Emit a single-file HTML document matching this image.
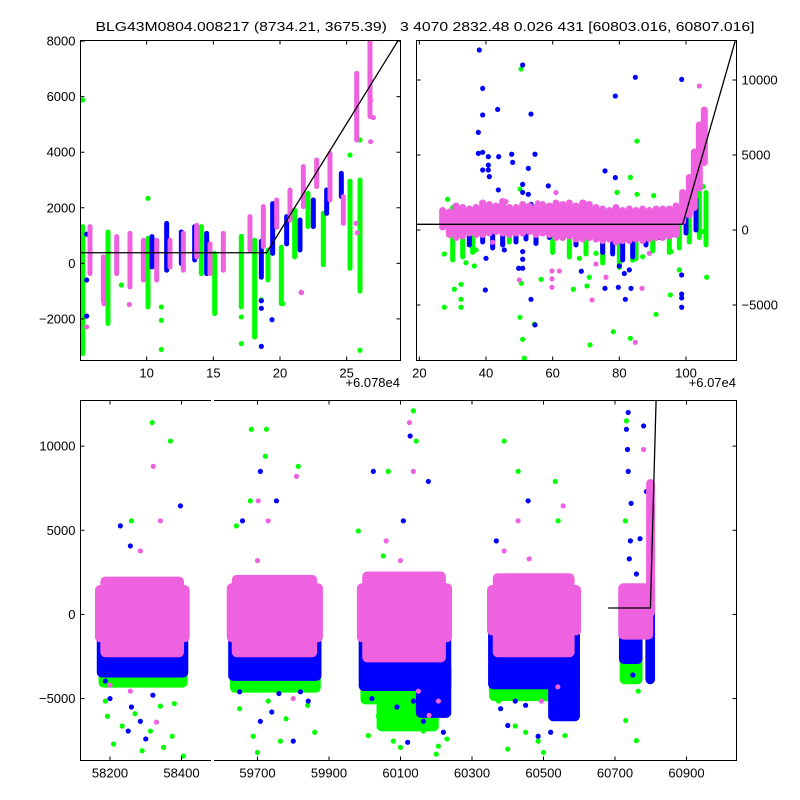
<!DOCTYPE html>
<html><head><meta charset="utf-8">
<style>
html,body{margin:0;padding:0;background:#fff;}
svg{display:block;font-family:"Liberation Sans",sans-serif;}
text{font-size:13px;fill:#000;}
</style></head>
<body>
<svg id="chart" width="800" height="800" viewBox="0 0 800 800">
<rect width="800" height="800" fill="#fff"/>
<text x="425" y="31" text-anchor="middle" textLength="659" lengthAdjust="spacingAndGlyphs" style="white-space:pre" xml:space="preserve">BLG43M0804.008217 (8734.21, 3675.39)   3 4070 2832.48 0.026 431 [60803.016, 60807.016]</text>
<defs>
<clipPath id="c1"><rect x="80" y="40" width="320" height="320"/></clipPath>
<clipPath id="c2"><rect x="416" y="40" width="320" height="320"/></clipPath>
<clipPath id="c3"><rect x="80" y="400" width="656" height="360"/></clipPath>
</defs>
<g id="p1" clip-path="url(#c1)"></g>
<g id="p2" clip-path="url(#c2)"></g>
<g id="p3" clip-path="url(#c3)"></g>
<g id="axes"></g>
</svg>
<script>
const GREEN="#00ff00", BLUE="#0000ff", PINK="#ee62e0";
const modelBase=[380];
const modelT0=[60799];
const modelSlope=[775];
// ===== top-left panel (x = MJD-60780) =====
const tlXTicks=[10,15,20,25];
const tlYTicks=[-2000,0,2000,4000,6000,8000];
const tlGreenStreaks=[[5.2,-3250,1320],[7.1,-2170,1130],[10.1,-1570,900],[14.1,-370,1320],[15.1,-1810,360],[17.1,-1570,970],[18.1,-2650,830],[19.1,-600,480],[20.1,-1450,580],[21.1,230,1920],[22.1,1320,2520],[23.25,-50,1800],[25.25,-180,2950],[26,-1000,3000]];
const tlGreenPts=[[5.2,5880],[5.2,-3000],[8.1,-780],[10.1,2340],[11.1,-1570],[11.1,-2050],[11.1,-3100],[17.1,-1930],[17.1,-2890],[18.1,-2650],[18.6,-1310],[20.2,-1450],[26,-3130],[25.25,3900],[26,4440],[25.25,2950]];
const tlBlueStreaks=[[10.4,-130,960],[11.5,-250,1440],[12.6,-8,1130],[13.6,120,1320],[14.5,-370,1080],[18.6,-500,800],[19.45,360,2150],[20.5,700,1680],[21.5,480,1560],[22.5,1320,2280],[23.5,1800,2640],[24.6,2400,3240]];
const tlBluePts=[[5.5,1050],[5.5,-600],[5.5,-1900],[18.6,-1350],[18.6,-1620],[18.6,-2990],[19.4,-2030],[21.6,-1050]];
const tlPinkStreaks=[[5.75,-370,1320],[6.75,-1330,230],[7.75,-370,960],[8.75,-850,1080],[9.75,-600,830],[10.75,-600,830],[11.75,-130,830],[12.75,-250,1080],[13.75,230,1370],[14.75,-370,700],[15.75,-250,1080],[17.75,470,1680],[18.75,600,2040],[19.75,1300,2280],[20.75,1560,2640],[21.75,2040,3480],[22.75,2760,3720],[23.75,2280,3960],[24.75,1440,2400],[25.75,4440,6840],[26.75,5280,8047]];
const tlPinkPts=[[5.5,-2290],[6.8,-1450],[8.7,-1480],[25.7,1440],[25.8,1100],[26.8,4380],[26.8,5860],[27,5250],[21.6,-1050]];
// ===== top-right panel (x = MJD-60700) =====
const trXTicks=[20,40,60,80,100];
const trYTicks=[-5000,0,5000,10000];
const trGreenStreaks=[[30,-2000,1500],[33,-1800,1200],[36,-1500,800],[47,-800,1200],[60,-1500,400],[65,-1800,600],[70,-1600,1000],[75,-2200,800],[80,-2500,500],[85,-1900,900],[90,-1400,600],[95,-1500,500],[98,-1200,1000],[101,-800,1800],[104,-500,2500],[106,-1000,2500]];
const trGreenPts=[[28.5,2050],[27.5,-1600],[27.5,-5150],[30.5,-3950],[32.5,-3620],[32.5,-4620],[32.5,-5150],[34,-2180],[36.5,-2400],[37,-1330],[50.5,10730],[50.2,2730],[50.6,-3550],[50.2,-5820],[51,-7290],[51.5,-8550],[54.5,-6270],[56.5,-3290],[66.2,-3950],[71.2,-7660],[78.2,-6780],[83.3,-7220],[85.3,5930],[83.3,3510],[79.3,2510],[85.3,2380],[90.3,2290],[91,-5620],[95.3,-4330],[106.2,-3150],[105.2,-110],[105.2,2890],[71,-3150],[70.3,-3730],[68,-1890],[73,-1550],[75,-1890],[84,-2000],[87,-1780],[95.5,-1440],[98,-2660]];
const trBlueStreaks=[[35,-1000,500],[39,-800,600],[42,-1200,300],[45,-1000,700],[49,-800,600],[52,-600,800],[55,-900,400],[59,-500,900],[63,-500,1000],[67,-1000,500],[71,-400,900],[75,-1500,1200],[78,-1600,1100],[81,-2000,600],[84,-1800,500],[88,-1000,800],[92,-500,800],[96,-300,900],[100,-200,1500],[103,0,2000]];
const trBluePts=[[38,12000],[51,11000],[39,9440],[39,7670],[43.5,8040],[53.5,7730],[37.7,6510],[37.7,5110],[39,5180],[40.7,4890],[40.7,4330],[39,4000],[40.7,4000],[41,3560],[43.8,4890],[47.7,5050],[48,4510],[54.7,5050],[52.7,4110],[84.8,10180],[78.8,8930],[98.7,10040],[75.7,3940],[78.8,3490],[58.7,2940],[43.7,2670],[51,3040],[51,2510],[52.7,2380],[53.5,1710],[45,-890],[45.5,-1330],[40,-1890],[51,-1440],[51,-1950],[49.8,-2550],[51,-2550],[39.8,-4000],[53.5,-4620],[54.7,-6330],[68.6,-2750],[75.7,-3890],[79.7,-3820],[81.8,-4620],[98.7,-3000],[98.7,-4270],[98.7,-4530],[98.7,-5150],[83,-2660],[80,-2400],[81.5,-2900],[83.5,-3890]];
const trPinkStreaks=[[27,200,1300],[29,-300,1200],[31,-500,1600],[33,-400,1500],[35,-200,1400],[37,-300,1500],[39,-300,1800],[41,-200,1700],[43,-100,1600],[45,-200,1900],[47,-300,1500],[49,-200,1500],[51,-200,1700],[53,-100,1600],[55,-300,1500],[57,-200,1700],[59,-300,1600],[61,-500,1800],[63,-500,1700],[65,-400,1800],[67,-600,1600],[69,-600,1800],[71,-500,1700],[73,-600,1500],[75,-700,1400],[77,-600,1300],[79,-800,1500],[81,-700,1300],[83,-700,1400],[85,-600,1300],[87,-700,1400],[89,-600,1300],[91,-500,1400],[93,-500,1400],[95,-400,1400],[97,-300,1600],[99,600,2500],[101,1000,3500],[102.5,1500,5200],[104,2800,7000],[105.5,4500,8000]];
const trPinkPts=[[104,9600],[50,-3330],[59.8,-2730],[62,-2730],[59.8,-3260],[59.8,-3820],[71.8,-4670],[76,-3150],[84.8,-7490],[86.8,-3890],[73,-2270],[61,2490],[46,1890],[55.5,1820],[69.5,1820],[42,-820],[89,-1550]];
// ===== bottom panel (x = MJD) =====
const btXTicks=[58200,58400,59700,59900,60100,60300,60500,60700,60900];
const btYTicks=[-5000,0,5000,10000];
const btGreenBands=[[58175,58410,-4200,-1200],[59630,59870,-4500,-1200],[59995,60230,-5200,-1200],[60040,60200,-6800,-3000],[60355,60590,-5000,-1200],[60720,60770,-4000,-800]];
const btBlueBands=[[58170,58412,-3600,-800],[59625,59872,-3800,-800],[59990,60235,-4400,-800],[60150,60235,-6000,-3000],[60352,60595,-4300,-800],[60520,60595,-6200,-3000],[60718,60770,-2800,-800],[60792,60805,-4000,1500]];
const btPinkBands=[[58165,58416,-1500,1600],[58180,58400,-2400,2100],[59621,59876,-1500,1700],[59635,59860,-2400,2200],[59985,60237,-1500,1700],[60000,60220,-2700,2400],[60349,60598,-1100,1600],[60365,60580,-2400,2300],[60716,60800,-1350,1700],[60794,60805,0,7900]];
const btGreenPts=[[58318,11400],[58369,10300],[58260,5560],[58187,-5150],[58193,-6050],[58234,-6630],[58341,-5450],[58313,-6930],[58374,-7240],[58405,-8420],[58210,-7700],[58290,-8100],[58350,-7900],[58270,-5900],[58380,-5300],[59683,11000],[59722,9400],[59725,11000],[59680,6750],[59641,5260],[59814,8800],[59730,-5150],[59764,-7530],[59688,-7240],[59650,-5600],[59780,-6200],[59840,-5400],[59860,-7000],[59700,-8200],[59982,4960],[60052,3480],[60066,8500],[60136,12100],[60144,10300],[60066,-5150],[60080,-7530],[60164,-6930],[60038,-6050],[60206,-7830],[60010,-7200],[60100,-7900],[60200,-8300],[60230,-7400],[60390,10300],[60429,8500],[60374,-5150],[60485,-7530],[60421,-6630],[60400,-8000],[60450,-7000],[60560,-7200],[60500,-8200],[60533,7900],[60541,5560],[60561,-5150],[60732,11500],[60729,5560],[60743,-3840],[60765,-4560],[60730,-6300],[60760,-7500]];
const btBluePts=[[58229,5260],[58257,4070],[58397,6450],[58187,-3960],[58285,-6350],[58251,-6930],[58200,-5000],[58320,-4800],[58300,-7400],[58260,-5500],[59658,5560],[59753,6750],[59708,8500],[59842,-5150],[59800,-7530],[59708,-6350],[59650,-4600],[59760,-4700],[59820,-4600],[59740,-5800],[60024,8500],[60108,5560],[60127,10600],[60178,7900],[60136,-5150],[60206,-4560],[60164,-6350],[60020,-5000],[60090,-5500],[60220,-7000],[60120,-7600],[60368,4370],[60457,6750],[60421,-5150],[60485,-7240],[60575,-4560],[60380,-5600],[60400,-6600],[60450,-5400],[60520,-7000],[60737,12000],[60737,8500],[60743,4370],[60788,7300],[60732,11000],[60780,11200],[60740,3300],[60760,2400],[60745,6600],[60735,9800],[60770,4500],[60750,-3600]];
const btPinkPts=[[58321,8800],[58341,5560],[58285,3770],[58397,1390],[58257,-4560],[58330,-6400],[58200,-4200],[59702,6750],[59809,8200],[59730,5560],[59700,3200],[59800,-5000],[60125,11400],[60136,8500],[60060,4370],[60150,-4560],[60206,-5150],[60100,3200],[60180,-6000],[60429,5560],[60390,3770],[60494,-5150],[60555,6450],[60460,3300],[60540,-4300],[60780,9800]];

const svg=document.getElementById('chart');
const NS="http://www.w3.org/2000/svg";
function mk(tag,attrs,parent){const e=document.createElementNS(NS,tag);for(const k in attrs)e.setAttribute(k,attrs[k]);parent.appendChild(e);return e;}
function lin(d0,d1,r0,r1){return v=>r0+(v-d0)*(r1-r0)/(d1-d0);}

const tl={x:lin(5,29,80,400),y:lin(-3480,8040,360,40)};
const tr={x:lin(19,115,416,736),y:lin(-8667,12667,360,40)};
const btX=v=> v<59000 ? 110+(v-58200)*0.3575 : 257.5+(v-59700)*0.3575;
const bt={x:btX,y:lin(-8650,12740,760,400)};

function drawStreaks(g,sc,arr,col,w,name){
  arr.forEach(s=>{
    const l=mk('line',{x1:sc.x(s[0]),x2:sc.x(s[0]),y1:sc.y(s[1]),y2:sc.y(s[2]),stroke:col,'stroke-width':w,'stroke-linecap':'round'},g);
    
    
  });
}
function drawPts(g,sc,arr,col,name){
  arr.forEach(p=>{
    const c=mk('circle',{cx:sc.x(p[0]),cy:sc.y(p[1]),r:2.6,fill:col},g);
    
    
  });
}
function drawBands(g,sc,arr,col,name){
  arr.forEach(b=>{
    const x0=sc.x(b[0]),x1=sc.x(b[1]),y0=sc.y(b[3]),y1=sc.y(b[2]);
    const r=mk('rect',{x:x0-2.5,y:y0-2.5,width:x1-x0+5,height:y1-y0+5,rx:5,fill:col},g);
    
    
  });
}
function drawModel(g,sc,t0,t1,offset){
  const pts=[];
  const f=t=>modelBase[0]+Math.max(0,t-modelT0[0])*modelSlope[0];
  [t0,modelT0[0],t1].forEach(t=>pts.push(sc.x(t-offset)+','+sc.y(f(t))));
  const pl=mk('polyline',{points:pts.join(' '),fill:'none',stroke:'#000','stroke-width':1.3},g);
  
  
}
const p1=document.getElementById('p1'),p2=document.getElementById('p2'),p3=document.getElementById('p3');
drawStreaks(p1,tl,tlGreenStreaks,GREEN,5,'green-points');drawPts(p1,tl,tlGreenPts,GREEN,'green-point');
drawStreaks(p1,tl,tlBlueStreaks,BLUE,5,'blue-points');drawPts(p1,tl,tlBluePts,BLUE,'blue-point');
drawStreaks(p1,tl,tlPinkStreaks,PINK,5,'pink-points');drawPts(p1,tl,tlPinkPts,PINK,'pink-point');
drawModel(p1,tl,60780,60812,60780);
drawStreaks(p2,tr,trGreenStreaks,GREEN,5,'green-points');drawPts(p2,tr,trGreenPts,GREEN,'green-point');
drawStreaks(p2,tr,trBlueStreaks,BLUE,5,'blue-points');drawPts(p2,tr,trBluePts,BLUE,'blue-point');
drawStreaks(p2,tr,trPinkStreaks,PINK,7,'pink-points');drawPts(p2,tr,trPinkPts,PINK,'pink-point');
drawModel(p2,tr,60700,60820,60700);
drawBands(p3,bt,btGreenBands,GREEN,'green-cluster');drawPts(p3,bt,btGreenPts,GREEN,'green-point');
drawBands(p3,bt,btBlueBands,BLUE,'blue-cluster');drawPts(p3,bt,btBluePts,BLUE,'blue-point');
drawBands(p3,bt,btPinkBands,PINK,'pink-cluster');drawPts(p3,bt,btPinkPts,PINK,'pink-point');
drawModel(p3,bt,60681,60830,0);

const ax=document.getElementById('axes');
function frame(x,y,w,h,name){const r=mk('rect',{x:x,y:y,width:w,height:h,fill:'none',stroke:'#000','stroke-width':1},ax);}
function xticks(sc,ticks,top,bot,fmt,name){
  ticks.forEach(t=>{const x=sc(t);
    mk('line',{x1:x,x2:x,y1:bot,y2:bot-4,stroke:'#000'},ax);
    mk('line',{x1:x,x2:x,y1:top,y2:top+4,stroke:'#000'},ax);
    const tx=mk('text',{x:x,y:bot+17,'text-anchor':'middle'},ax);tx.textContent=fmt(t);
    
    
  });
}
function yticks(sc,ticks,left,right,labelRight,name){
  ticks.forEach(t=>{const y=sc(t);
    mk('line',{x1:left,x2:left+4,y1:y,y2:y,stroke:'#000'},ax);
    mk('line',{x1:right,x2:right-4,y1:y,y2:y,stroke:'#000'},ax);
    const tx=mk('text',labelRight?{x:right+5,y:y+4.5,'text-anchor':'start'}:{x:left-5,y:y+4.5,'text-anchor':'end'},ax);tx.textContent=String(t).replace('-','\u2212');
    
    
  });
}
frame(80.5,40.5,320,320,'zoom-panel-frame');
frame(416.5,40.5,320,320,'season-panel-frame');
frame(80.5,400.5,656,360,'full-panel-frame');
xticks(tl.x,tlXTicks,40.5,360.5,String,'x-tick-label');
yticks(tl.y,tlYTicks,80.5,400.5,false,'y-tick-label');
xticks(tr.x,trXTicks,40.5,360.5,String,'x-tick-label');
yticks(tr.y,trYTicks,416.5,736.5,true,'y-tick-label');
xticks(bt.x,btXTicks,400.5,760.5,String,'x-tick-label');
yticks(bt.y,btYTicks,80.5,736.5,false,'y-tick-label');
const gap1=mk('rect',{x:211,y:397,width:3,height:6,fill:'#fff'},ax);
const gap2=mk('rect',{x:211,y:757,width:3,height:6,fill:'#fff'},ax);
const o1=mk('text',{x:400,y:387,'text-anchor':'end'},ax);o1.textContent='+6.078e4';


const o2=mk('text',{x:736,y:387,'text-anchor':'end'},ax);o2.textContent='+6.07e4';


</script>
</body></html>
